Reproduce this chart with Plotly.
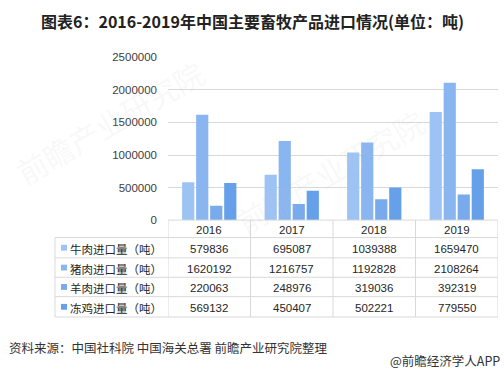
import plotly.graph_objects as go

W, H = 504, 385

years = ["2016", "2017", "2018", "2019"]
series_names = ["牛肉进口量（吨）", "猪肉进口量（吨）", "羊肉进口量（吨）", "冻鸡进口量（吨）"]
beef = [579836, 695087, 1039388, 1659470]
pork = [1620192, 1216757, 1192828, 2108264]
mutton = [220063, 248976, 319036, 392319]
chicken = [569132, 450407, 502221, 779550]
series_values = [beef, pork, mutton, chicken]
colors = ["#9dc3f5", "#89b5f0", "#79aaec", "#66a0e8"]

title_text = "图表6：2016-2019年中国主要畜牧产品进口情况(单位：吨)"
source_text = "资料来源：中国社科院 中国海关总署 前瞻产业研究院整理"
brand_text = "@前瞻经济学人APP"

def px(x):
    return x / W

def py(y):
    return 1 - y / H

PL, PR = 168, 498
PT, PB = 53, 221
TL = 55
row_lines = [239, 260, 280, 300, 321]
TXT_DY = 1.5   # small downward nudge for table text

fig = go.Figure()
for name, vals, col in zip(series_names, series_values, colors):
    fig.add_trace(go.Bar(x=years, y=vals, name=name, marker=dict(color=col, line=dict(width=0)),
                         hoverinfo="x+y"))

shapes = []
annotations = []
grid_col = "#d9d9d9"

for yl in row_lines:
    shapes.append(dict(type="line", xref="paper", yref="paper", x0=px(TL), x1=px(PR),
                       y0=py(yl), y1=py(yl), line=dict(color=grid_col, width=1)))
shapes.append(dict(type="line", xref="paper", yref="paper", x0=px(PL), x1=px(PR),
                   y0=py(PB), y1=py(PB), line=dict(color=grid_col, width=1)))
shapes.append(dict(type="line", xref="paper", yref="paper", x0=px(TL), x1=px(TL),
                   y0=py(row_lines[0]), y1=py(row_lines[-1]), line=dict(color=grid_col, width=1)))
for b in [-0.5, 0.5, 1.5, 2.5, 3.5]:
    shapes.append(dict(type="line", xref="x", yref="paper", x0=b, x1=b,
                       y0=py(PB), y1=py(row_lines[-1]), line=dict(color=grid_col, width=1)))

num_font = dict(family="Liberation Sans, Arial, sans-serif", size=11.5, color="#262626")
cjk_font = dict(family="Noto Sans CJK SC", size=11.5, color="#262626")

for j, yr in enumerate(years):
    annotations.append(dict(x=j, xref="x", y=py((PB + row_lines[0]) / 2 + TXT_DY), yref="paper",
                            text=yr, showarrow=False, font=num_font, xanchor="center", yanchor="middle"))
for i, (name, vals, col) in enumerate(zip(series_names, series_values, colors)):
    yc = (row_lines[i] + row_lines[i + 1]) / 2
    shapes.append(dict(type="rect", xref="paper", yref="paper", x0=px(61), x1=px(67),
                       y0=py(yc + 3), y1=py(yc - 3), fillcolor=col, line=dict(width=0)))
    annotations.append(dict(x=px(67.5), xref="paper", y=py(yc + 1), yref="paper", text=name,
                            showarrow=False, font=cjk_font, xanchor="left", yanchor="middle"))
    for j, v in enumerate(vals):
        annotations.append(dict(x=j, xref="x", y=py(yc + TXT_DY), yref="paper", text=str(v),
                                showarrow=False, font=num_font, xanchor="center", yanchor="middle"))

annotations.append(dict(x=0.5, xref="paper", y=py(15), yref="paper", text="<b>" + title_text + "</b>",
                        showarrow=False, xanchor="center", yanchor="middle",
                        font=dict(family="Noto Sans CJK SC", size=16, color="#222222")))
annotations.append(dict(x=px(7), xref="paper", y=py(353), yref="paper", text=source_text,
                        showarrow=False, xanchor="left", yanchor="middle",
                        font=dict(family="Noto Sans CJK SC", size=12.5, color="#333333")))
annotations.append(dict(x=px(502), xref="paper", y=py(366), yref="paper", text=brand_text,
                        showarrow=False, xanchor="right", yanchor="middle",
                        font=dict(family="Noto Sans CJK SC", size=12.5, color="#333333")))

for (wx, wy) in [(110, 120), (330, 170)]:
    annotations.append(dict(x=px(wx), xref="paper", y=py(wy), yref="paper", text="前瞻产业研究院",
                            showarrow=False, textangle=-30, xanchor="center", yanchor="middle",
                            font=dict(family="Noto Sans CJK SC", size=30, color="rgba(200,200,200,0.13)")))

fig.update_layout(
    width=W, height=H,
    margin=dict(l=0, r=0, t=0, b=0),
    paper_bgcolor="white", plot_bgcolor="white",
    showlegend=False,
    barmode="group", bargap=0.32, bargroupgap=0.13,
    xaxis=dict(type="category", range=[-0.5, 3.5], autorange=False, domain=[px(PL), px(PR)],
               showticklabels=False, showgrid=False, zeroline=False, showline=False, ticks="",
               fixedrange=True),
    yaxis=dict(domain=[py(PB), py(PT)], range=[0, 2500000], autorange=False, dtick=500000,
               tickformat="d", showgrid=True, gridcolor=grid_col, gridwidth=1, zeroline=False,
               showline=False, ticks="", ticklabelstandoff=10, fixedrange=True,
               tickfont=dict(family="Liberation Sans, Arial, sans-serif", size=11.5, color="#404040")),
    shapes=shapes,
    annotations=annotations,
)

fig.write_html("out.html", config={"displayModeBar": False},
               post_script="document.body.style.margin='0';document.body.style.overflow='hidden';")
